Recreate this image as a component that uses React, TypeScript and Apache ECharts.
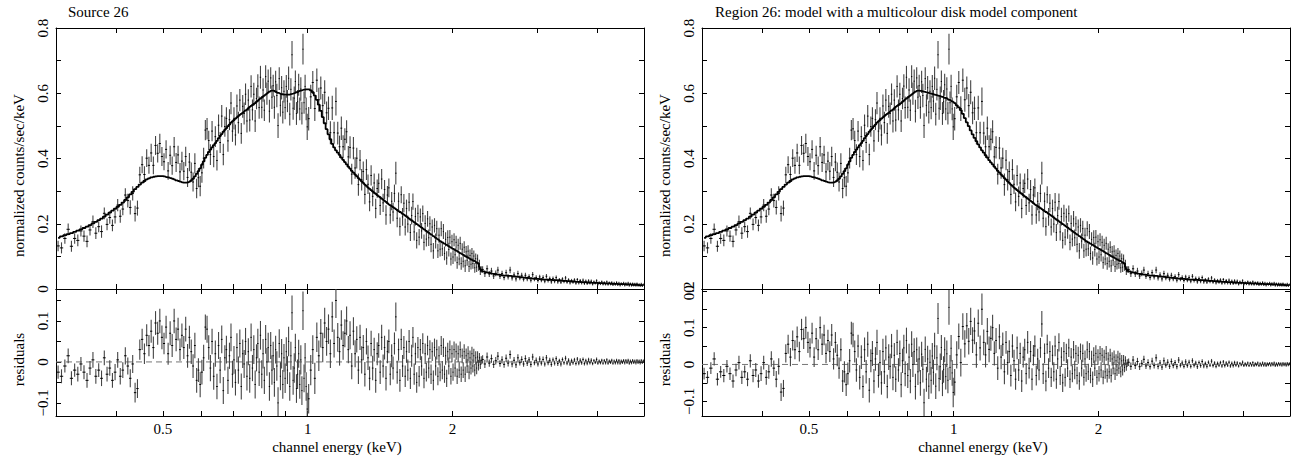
import React, { useEffect, useRef } from "react";
import * as echarts from "echarts";

// ---- channel energies (keV) ----
const ENERGY_KEV = [
  0.303, 0.308, 0.313, 0.318, 0.323, 0.328, 0.333, 0.338, 0.343, 0.348,
  0.353, 0.358, 0.363, 0.368, 0.373, 0.378, 0.383, 0.388, 0.393, 0.398,
  0.403, 0.408, 0.413, 0.418, 0.423, 0.428, 0.433, 0.438, 0.443, 0.448,
  0.453, 0.458, 0.463, 0.468, 0.473, 0.478, 0.483, 0.488, 0.493, 0.498,
  0.503, 0.508, 0.513, 0.518, 0.523, 0.528, 0.533, 0.538, 0.543, 0.548,
  0.553, 0.558, 0.563, 0.568, 0.573, 0.578, 0.583, 0.588, 0.593, 0.598,
  0.603, 0.608, 0.613, 0.618, 0.623, 0.628, 0.633, 0.638, 0.643, 0.648,
  0.653, 0.658, 0.663, 0.668, 0.673, 0.678, 0.683, 0.688, 0.693, 0.698,
  0.703, 0.708, 0.713, 0.718, 0.723, 0.728, 0.733, 0.738, 0.743, 0.748,
  0.753, 0.758, 0.763, 0.768, 0.773, 0.778, 0.783, 0.788, 0.793, 0.798,
  0.803, 0.808, 0.813, 0.818, 0.823, 0.828, 0.833, 0.838, 0.843, 0.848,
  0.853, 0.858, 0.863, 0.868, 0.873, 0.878, 0.883, 0.888, 0.893, 0.898,
  0.903, 0.908, 0.913, 0.918, 0.923, 0.928, 0.933, 0.938, 0.943, 0.948,
  0.953, 0.958, 0.963, 0.968, 0.973, 0.978, 0.983, 0.988, 0.993, 0.998,
  1.005, 1.015, 1.025, 1.035, 1.045, 1.055, 1.065, 1.075, 1.085, 1.095,
  1.105, 1.115, 1.125, 1.135, 1.145, 1.155, 1.165, 1.175, 1.185, 1.195,
  1.205, 1.215, 1.225, 1.235, 1.245, 1.255, 1.265, 1.275, 1.285, 1.295,
  1.305, 1.315, 1.325, 1.335, 1.345, 1.355, 1.365, 1.375, 1.385, 1.395,
  1.405, 1.415, 1.425, 1.435, 1.445, 1.455, 1.465, 1.475, 1.485, 1.495,
  1.505, 1.515, 1.525, 1.535, 1.545, 1.555, 1.565, 1.575, 1.585, 1.595,
  1.605, 1.615, 1.625, 1.635, 1.645, 1.655, 1.665, 1.675, 1.685, 1.695,
  1.705, 1.715, 1.725, 1.735, 1.745, 1.755, 1.765, 1.775, 1.785, 1.795,
  1.805, 1.815, 1.825, 1.835, 1.845, 1.855, 1.865, 1.875, 1.885, 1.895,
  1.905, 1.915, 1.925, 1.935, 1.945, 1.955, 1.965, 1.975, 1.985, 1.995,
  2.005, 2.015, 2.025, 2.035, 2.045, 2.055, 2.065, 2.075, 2.085, 2.095,
  2.105, 2.115, 2.125, 2.135, 2.145, 2.155, 2.165, 2.175, 2.185, 2.195,
  2.205, 2.215, 2.225, 2.235, 2.245, 2.255, 2.265, 2.275, 2.285, 2.295,
  2.31, 2.335, 2.36, 2.385, 2.41, 2.435, 2.46, 2.485, 2.51, 2.535,
  2.56, 2.585, 2.61, 2.635, 2.66, 2.685, 2.71, 2.735, 2.76, 2.785,
  2.81, 2.835, 2.86, 2.885, 2.91, 2.935, 2.96, 2.985, 3.01, 3.035,
  3.06, 3.085, 3.11, 3.135, 3.16, 3.185, 3.21, 3.235, 3.26, 3.285,
  3.31, 3.335, 3.36, 3.385, 3.41, 3.435, 3.46, 3.485, 3.51, 3.535,
  3.56, 3.585, 3.61, 3.635, 3.66, 3.685, 3.71, 3.735, 3.76, 3.785,
  3.81, 3.835, 3.86, 3.885, 3.91, 3.935, 3.96, 3.985, 4.01, 4.035,
  4.06, 4.085, 4.11, 4.135, 4.16, 4.185, 4.21, 4.235, 4.26, 4.285,
  4.31, 4.335, 4.36, 4.385, 4.41, 4.435, 4.46, 4.485, 4.51, 4.535,
  4.56, 4.585, 4.61, 4.635, 4.66, 4.685, 4.71, 4.735, 4.76, 4.785,
  4.81, 4.835, 4.86, 4.885, 4.91, 4.935, 4.96, 4.985,
];

// ---- normalized counts/sec/keV ----
const COUNTS = [
  0.132, 0.126, 0.155, 0.183, 0.131, 0.155, 0.149, 0.178, 0.162, 0.146,
  0.181, 0.206, 0.171, 0.191, 0.176, 0.232, 0.198, 0.219, 0.195, 0.221,
  0.257, 0.223, 0.245, 0.288, 0.271, 0.250, 0.293, 0.231, 0.248, 0.350,
  0.381, 0.351, 0.401, 0.379, 0.417, 0.379, 0.440, 0.416, 0.446, 0.406,
  0.390, 0.428, 0.362, 0.410, 0.378, 0.436, 0.388, 0.411, 0.359, 0.392,
  0.361, 0.406, 0.342, 0.389, 0.358, 0.328, 0.385, 0.308, 0.341, 0.315,
  0.356, 0.401, 0.487, 0.491, 0.455, 0.412, 0.484, 0.406, 0.467, 0.394,
  0.502, 0.449, 0.530, 0.412, 0.498, 0.523, 0.454, 0.519, 0.570, 0.484,
  0.523, 0.472, 0.561, 0.510, 0.579, 0.477, 0.560, 0.538, 0.597, 0.515,
  0.579, 0.518, 0.621, 0.549, 0.597, 0.515, 0.584, 0.622, 0.556, 0.649,
  0.557, 0.610, 0.548, 0.651, 0.599, 0.637, 0.545, 0.647, 0.588, 0.623,
  0.557, 0.635, 0.593, 0.501, 0.645, 0.563, 0.617, 0.542, 0.606, 0.556,
  0.621, 0.576, 0.646, 0.536, 0.612, 0.718, 0.554, 0.585, 0.636, 0.538,
  0.574, 0.626, 0.552, 0.613, 0.539, 0.735, 0.571, 0.621, 0.552, 0.497,
  0.522, 0.589, 0.633, 0.553, 0.640, 0.580, 0.616, 0.562, 0.603, 0.540,
  0.554, 0.479, 0.555, 0.479, 0.575, 0.478, 0.436, 0.493, 0.436, 0.459,
  0.482, 0.405, 0.434, 0.352, 0.432, 0.371, 0.401, 0.320, 0.395, 0.335,
  0.360, 0.290, 0.366, 0.321, 0.267, 0.348, 0.284, 0.325, 0.247, 0.308,
  0.324, 0.256, 0.337, 0.264, 0.305, 0.227, 0.288, 0.310, 0.227, 0.269,
  0.236, 0.293, 0.355, 0.217, 0.269, 0.191, 0.289, 0.221, 0.263, 0.190,
  0.247, 0.199, 0.266, 0.173, 0.225, 0.268, 0.175, 0.222, 0.149, 0.232,
  0.159, 0.221, 0.178, 0.231, 0.143, 0.201, 0.153, 0.215, 0.157, 0.200,
  0.137, 0.190, 0.117, 0.195, 0.147, 0.185, 0.117, 0.165, 0.122, 0.185,
  0.123, 0.176, 0.109, 0.152, 0.095, 0.158, 0.121, 0.159, 0.092, 0.145,
  0.098, 0.151, 0.105, 0.143, 0.081, 0.134, 0.092, 0.140, 0.078, 0.122,
  0.085, 0.128, 0.071, 0.114, 0.088, 0.116, 0.069, 0.103, 0.076, 0.109,
  0.078, 0.101, 0.065, 0.093, 0.067, 0.092, 0.069, 0.078, 0.054, 0.060,
  0.060, 0.047, 0.062, 0.046, 0.055, 0.040, 0.048, 0.058, 0.039, 0.047,
  0.035, 0.050, 0.037, 0.058, 0.034, 0.043, 0.031, 0.047, 0.034, 0.042,
  0.030, 0.042, 0.031, 0.038, 0.027, 0.044, 0.030, 0.035, 0.026, 0.037,
  0.027, 0.035, 0.024, 0.039, 0.026, 0.032, 0.022, 0.032, 0.024, 0.035,
  0.022, 0.029, 0.021, 0.031, 0.023, 0.034, 0.021, 0.028, 0.019, 0.026,
  0.021, 0.028, 0.018, 0.029, 0.019, 0.026, 0.019, 0.027, 0.017, 0.024,
  0.017, 0.025, 0.018, 0.024, 0.015, 0.022, 0.018, 0.025, 0.015, 0.020,
  0.016, 0.022, 0.015, 0.020, 0.015, 0.022, 0.014, 0.019, 0.015, 0.020,
  0.013, 0.018, 0.014, 0.020, 0.013, 0.018, 0.012, 0.017, 0.014, 0.018,
  0.012, 0.017, 0.013, 0.018, 0.011, 0.016, 0.011, 0.016, 0.012, 0.015,
  0.011, 0.016, 0.011, 0.014, 0.010, 0.015, 0.010, 0.013,
];

// ---- 1-sigma errors on the counts ----
const COUNT_ERRORS = [
  0.016, 0.017, 0.016, 0.018, 0.017, 0.016, 0.018, 0.017, 0.017, 0.018,
  0.017, 0.019, 0.018, 0.017, 0.019, 0.018, 0.018, 0.019, 0.018, 0.020,
  0.019, 0.020, 0.019, 0.021, 0.021, 0.022, 0.022, 0.024, 0.023, 0.025,
  0.026, 0.025, 0.027, 0.026, 0.028, 0.027, 0.029, 0.028, 0.030, 0.029,
  0.026, 0.028, 0.027, 0.029, 0.028, 0.030, 0.029, 0.028, 0.027, 0.029,
  0.028, 0.030, 0.029, 0.028, 0.030, 0.029, 0.031, 0.030, 0.029, 0.031,
  0.030, 0.032, 0.031, 0.033, 0.030, 0.032, 0.031, 0.033, 0.032, 0.031,
  0.033, 0.032, 0.034, 0.033, 0.031, 0.034, 0.033, 0.032, 0.034, 0.033,
  0.034, 0.032, 0.035, 0.033, 0.034, 0.032, 0.035, 0.034, 0.033, 0.035,
  0.033, 0.035, 0.034, 0.032, 0.035, 0.034, 0.033, 0.036, 0.034, 0.035,
  0.034, 0.036, 0.033, 0.035, 0.034, 0.036, 0.035, 0.033, 0.036, 0.034,
  0.035, 0.034, 0.036, 0.038, 0.035, 0.034, 0.036, 0.035, 0.034, 0.036,
  0.035, 0.034, 0.036, 0.035, 0.034, 0.042, 0.035, 0.036, 0.034, 0.035,
  0.036, 0.034, 0.035, 0.036, 0.035, 0.047, 0.034, 0.036, 0.035, 0.040,
  0.036, 0.037, 0.035, 0.038, 0.036, 0.037, 0.035, 0.036, 0.037, 0.035,
  0.036, 0.035, 0.037, 0.034, 0.043, 0.035, 0.034, 0.036, 0.035, 0.034,
  0.035, 0.033, 0.034, 0.032, 0.034, 0.033, 0.032, 0.034, 0.031, 0.033,
  0.031, 0.030, 0.032, 0.030, 0.029, 0.031, 0.030, 0.029, 0.030, 0.028,
  0.030, 0.029, 0.031, 0.028, 0.029, 0.030, 0.028, 0.029, 0.027, 0.028,
  0.028, 0.027, 0.035, 0.028, 0.027, 0.028, 0.026, 0.027, 0.028, 0.026,
  0.027, 0.026, 0.028, 0.026, 0.027, 0.025, 0.026, 0.027, 0.025, 0.026,
  0.025, 0.026, 0.024, 0.025, 0.024, 0.025, 0.023, 0.024, 0.025, 0.023,
  0.024, 0.023, 0.024, 0.022, 0.023, 0.024, 0.022, 0.023, 0.022, 0.023,
  0.022, 0.023, 0.021, 0.022, 0.021, 0.022, 0.021, 0.022, 0.020, 0.021,
  0.021, 0.020, 0.021, 0.020, 0.019, 0.020, 0.019, 0.020, 0.019, 0.018,
  0.019, 0.018, 0.019, 0.018, 0.017, 0.018, 0.017, 0.018, 0.016, 0.017,
  0.016, 0.017, 0.015, 0.016, 0.015, 0.014, 0.013, 0.012, 0.011, 0.010,
  0.010, 0.010, 0.011, 0.009, 0.010, 0.009, 0.009, 0.010, 0.008, 0.009,
  0.008, 0.009, 0.008, 0.010, 0.008, 0.008, 0.008, 0.009, 0.007, 0.008,
  0.007, 0.008, 0.007, 0.007, 0.007, 0.008, 0.006, 0.007, 0.006, 0.007,
  0.006, 0.007, 0.006, 0.007, 0.006, 0.006, 0.006, 0.006, 0.006, 0.006,
  0.006, 0.005, 0.006, 0.005, 0.005, 0.006, 0.005, 0.005, 0.005, 0.005,
  0.005, 0.005, 0.005, 0.005, 0.005, 0.005, 0.005, 0.005, 0.005, 0.005,
  0.005, 0.005, 0.004, 0.005, 0.004, 0.004, 0.004, 0.005, 0.004, 0.004,
  0.004, 0.004, 0.004, 0.004, 0.004, 0.004, 0.004, 0.004, 0.004, 0.004,
  0.004, 0.004, 0.004, 0.004, 0.004, 0.004, 0.004, 0.004, 0.004, 0.004,
  0.004, 0.004, 0.004, 0.004, 0.004, 0.004, 0.004, 0.004, 0.004, 0.004,
  0.004, 0.004, 0.004, 0.004, 0.004, 0.004, 0.004, 0.004,
];

// ---- model of the left plot ("Source 26") ----
const MODEL_SOURCE = [
  0.157, 0.161, 0.165, 0.168, 0.171, 0.175, 0.179, 0.183, 0.187, 0.191,
  0.196, 0.201, 0.206, 0.211, 0.216, 0.222, 0.228, 0.234, 0.240, 0.246,
  0.252, 0.258, 0.265, 0.273, 0.281, 0.290, 0.298, 0.306, 0.313, 0.320,
  0.326, 0.331, 0.336, 0.339, 0.342, 0.344, 0.345, 0.346, 0.346, 0.346,
  0.345, 0.343, 0.342, 0.340, 0.338, 0.336, 0.333, 0.331, 0.329, 0.327,
  0.326, 0.326, 0.327, 0.329, 0.333, 0.338, 0.345, 0.353, 0.361, 0.370,
  0.381, 0.391, 0.402, 0.411, 0.420, 0.427, 0.434, 0.441, 0.447, 0.454,
  0.462, 0.469, 0.475, 0.482, 0.488, 0.493, 0.499, 0.504, 0.510, 0.514,
  0.518, 0.522, 0.526, 0.530, 0.534, 0.537, 0.540, 0.543, 0.547, 0.550,
  0.554, 0.558, 0.561, 0.564, 0.567, 0.570, 0.574, 0.577, 0.581, 0.584,
  0.587, 0.590, 0.593, 0.596, 0.599, 0.602, 0.605, 0.607, 0.608, 0.608,
  0.607, 0.605, 0.603, 0.601, 0.600, 0.598, 0.597, 0.597, 0.596, 0.596,
  0.596, 0.596, 0.596, 0.596, 0.597, 0.598, 0.599, 0.600, 0.601, 0.603,
  0.604, 0.606, 0.607, 0.608, 0.609, 0.610, 0.611, 0.611, 0.612, 0.612,
  0.612, 0.609, 0.603, 0.593, 0.580, 0.565, 0.546, 0.527, 0.508, 0.490,
  0.474, 0.459, 0.445, 0.434, 0.425, 0.418, 0.411, 0.403, 0.396, 0.389,
  0.382, 0.375, 0.369, 0.362, 0.357, 0.351, 0.346, 0.340, 0.335, 0.330,
  0.325, 0.320, 0.316, 0.311, 0.307, 0.303, 0.299, 0.295, 0.292, 0.288,
  0.284, 0.281, 0.277, 0.274, 0.270, 0.267, 0.263, 0.260, 0.257, 0.254,
  0.251, 0.248, 0.245, 0.242, 0.239, 0.236, 0.234, 0.231, 0.228, 0.225,
  0.222, 0.219, 0.216, 0.213, 0.210, 0.208, 0.205, 0.202, 0.199, 0.197,
  0.194, 0.191, 0.188, 0.186, 0.183, 0.181, 0.178, 0.175, 0.172, 0.170,
  0.167, 0.165, 0.162, 0.160, 0.157, 0.155, 0.152, 0.150, 0.147, 0.145,
  0.143, 0.141, 0.139, 0.137, 0.135, 0.133, 0.131, 0.129, 0.127, 0.125,
  0.123, 0.121, 0.120, 0.118, 0.116, 0.114, 0.112, 0.110, 0.108, 0.107,
  0.105, 0.103, 0.101, 0.099, 0.098, 0.096, 0.094, 0.093, 0.091, 0.089,
  0.088, 0.086, 0.085, 0.083, 0.082, 0.080, 0.077, 0.068, 0.060, 0.056,
  0.054, 0.052, 0.050, 0.049, 0.047, 0.046, 0.045, 0.044, 0.043, 0.042,
  0.041, 0.041, 0.040, 0.040, 0.039, 0.039, 0.038, 0.037, 0.036, 0.036,
  0.035, 0.034, 0.034, 0.033, 0.033, 0.032, 0.032, 0.031, 0.031, 0.030,
  0.030, 0.029, 0.029, 0.029, 0.028, 0.028, 0.028, 0.027, 0.027, 0.027,
  0.026, 0.026, 0.026, 0.025, 0.025, 0.025, 0.024, 0.024, 0.024, 0.023,
  0.023, 0.023, 0.022, 0.022, 0.022, 0.022, 0.021, 0.021, 0.021, 0.021,
  0.020, 0.020, 0.020, 0.020, 0.019, 0.019, 0.019, 0.019, 0.018, 0.018,
  0.018, 0.018, 0.018, 0.017, 0.017, 0.017, 0.017, 0.017, 0.016, 0.016,
  0.016, 0.016, 0.016, 0.016, 0.015, 0.015, 0.015, 0.015, 0.015, 0.015,
  0.014, 0.014, 0.014, 0.014, 0.014, 0.014, 0.013, 0.013, 0.013, 0.013,
  0.013, 0.013, 0.012, 0.012, 0.012, 0.012, 0.011, 0.011,
];

// ---- model of the right plot (with a multicolour disk component) ----
const MODEL_DISK = [
  0.157, 0.161, 0.165, 0.168, 0.171, 0.175, 0.179, 0.183, 0.187, 0.191,
  0.196, 0.201, 0.206, 0.211, 0.216, 0.222, 0.228, 0.234, 0.240, 0.246,
  0.252, 0.258, 0.265, 0.273, 0.281, 0.290, 0.298, 0.306, 0.313, 0.320,
  0.326, 0.331, 0.336, 0.339, 0.342, 0.344, 0.345, 0.346, 0.346, 0.346,
  0.345, 0.343, 0.342, 0.340, 0.338, 0.336, 0.333, 0.331, 0.329, 0.327,
  0.326, 0.326, 0.327, 0.329, 0.333, 0.338, 0.345, 0.353, 0.361, 0.370,
  0.381, 0.391, 0.402, 0.411, 0.420, 0.427, 0.434, 0.441, 0.447, 0.454,
  0.462, 0.469, 0.475, 0.482, 0.488, 0.493, 0.499, 0.504, 0.510, 0.514,
  0.518, 0.522, 0.526, 0.530, 0.534, 0.537, 0.540, 0.543, 0.547, 0.550,
  0.554, 0.558, 0.561, 0.564, 0.567, 0.570, 0.574, 0.577, 0.581, 0.584,
  0.587, 0.590, 0.593, 0.596, 0.599, 0.602, 0.605, 0.607, 0.608, 0.608,
  0.607, 0.607, 0.606, 0.605, 0.604, 0.603, 0.602, 0.601, 0.600, 0.599,
  0.598, 0.597, 0.596, 0.595, 0.594, 0.593, 0.592, 0.591, 0.590, 0.589,
  0.588, 0.586, 0.585, 0.584, 0.582, 0.580, 0.579, 0.577, 0.575, 0.573,
  0.570, 0.563, 0.557, 0.548, 0.537, 0.524, 0.511, 0.499, 0.486, 0.474,
  0.463, 0.453, 0.443, 0.434, 0.425, 0.418, 0.410, 0.403, 0.395, 0.388,
  0.382, 0.375, 0.369, 0.362, 0.357, 0.351, 0.346, 0.340, 0.335, 0.330,
  0.325, 0.320, 0.316, 0.311, 0.307, 0.303, 0.299, 0.295, 0.292, 0.288,
  0.284, 0.281, 0.277, 0.274, 0.270, 0.267, 0.263, 0.260, 0.257, 0.254,
  0.251, 0.248, 0.245, 0.242, 0.239, 0.236, 0.234, 0.231, 0.228, 0.225,
  0.222, 0.219, 0.216, 0.213, 0.210, 0.208, 0.205, 0.202, 0.199, 0.197,
  0.194, 0.191, 0.188, 0.186, 0.183, 0.181, 0.178, 0.175, 0.172, 0.170,
  0.167, 0.165, 0.162, 0.160, 0.157, 0.155, 0.152, 0.150, 0.147, 0.145,
  0.143, 0.141, 0.139, 0.137, 0.135, 0.133, 0.131, 0.129, 0.127, 0.125,
  0.123, 0.121, 0.120, 0.118, 0.116, 0.114, 0.112, 0.110, 0.108, 0.107,
  0.105, 0.103, 0.101, 0.099, 0.098, 0.096, 0.094, 0.093, 0.091, 0.089,
  0.088, 0.086, 0.085, 0.083, 0.082, 0.080, 0.077, 0.068, 0.060, 0.056,
  0.054, 0.052, 0.050, 0.049, 0.047, 0.046, 0.045, 0.044, 0.043, 0.042,
  0.041, 0.041, 0.040, 0.040, 0.039, 0.039, 0.038, 0.037, 0.036, 0.036,
  0.035, 0.034, 0.034, 0.033, 0.033, 0.032, 0.032, 0.031, 0.031, 0.030,
  0.030, 0.029, 0.029, 0.029, 0.028, 0.028, 0.028, 0.027, 0.027, 0.027,
  0.026, 0.026, 0.026, 0.025, 0.025, 0.025, 0.024, 0.024, 0.024, 0.023,
  0.023, 0.023, 0.022, 0.022, 0.022, 0.022, 0.021, 0.021, 0.021, 0.021,
  0.020, 0.020, 0.020, 0.020, 0.019, 0.019, 0.019, 0.019, 0.018, 0.018,
  0.018, 0.018, 0.018, 0.017, 0.017, 0.017, 0.017, 0.017, 0.016, 0.016,
  0.016, 0.016, 0.016, 0.016, 0.015, 0.015, 0.015, 0.015, 0.015, 0.015,
  0.014, 0.014, 0.014, 0.014, 0.014, 0.014, 0.013, 0.013, 0.013, 0.013,
  0.013, 0.013, 0.012, 0.012, 0.012, 0.012, 0.011, 0.011,
];

const PANEL_TITLES = ["Source 26", "Region 26: model with a multicolour disk model component"];
const X_RANGE_KEV = [0.3, 5];
const X_TICKS_KEV = [0.4, 0.5, 0.6, 0.7, 0.8, 0.9, 1, 2, 3, 4];
const X_LABELS_KEV = [0.5, 1, 2];
const TOP_Y_RANGE = [0, 0.8];
const TOP_Y_TICKS = [0, 0.1, 0.2, 0.3, 0.4, 0.5, 0.6, 0.7, 0.8];
const TOP_Y_LABELS = [0, 0.2, 0.4, 0.6, 0.8];
const RES_RANGE_LEFT = [-0.132, 0.178];
const RES_RANGE_RIGHT = [-0.14, 0.205];
const RES_TICKS = [-0.1, -0.05, 0, 0.05, 0.1, 0.15, 0.2];
const RES_LABELS = [-0.1, 0, 0.1, 0.2];

const FONT = '"Liberation Serif", "Times New Roman", serif';

const lg = (v: number) => Math.log10(v);

function binEdges() {
  const n = ENERGY_KEV.length;
  return ENERGY_KEV.map((e, i) => {
    const prev = i > 0 ? ENERGY_KEV[i - 1] : e - (ENERGY_KEV[1] - ENERGY_KEV[0]);
    const next = i < n - 1 ? ENERGY_KEV[i + 1] : e + (e - ENERGY_KEV[n - 2]);
    return [lg((prev + e) / 2), lg((e + next) / 2)];
  });
}

function fmtY(v: number) {
  const r = Math.round(v * 100) / 100;
  if (r === 0) return "0";
  const s = String(Math.abs(r));
  return r < 0 ? "\u2212" + s : s;
}

function fmtX(v: number) {
  const e = Math.pow(10, v);
  return String(Math.round(e * 10) / 10);
}

const renderErr = (_params: any, api: any) => {
  const x = api.value(0);
  const y = api.value(1);
  const top = api.coord([x, api.value(3)]);
  const bot = api.coord([x, api.value(2)]);
  const l = api.coord([api.value(4), y]);
  const r = api.coord([api.value(5), y]);
  return {
    type: "group",
    children: [
      { type: "line", shape: { x1: top[0], y1: top[1], x2: bot[0], y2: bot[1] }, style: { stroke: "#454545", lineWidth: 1.1 } },
      { type: "line", shape: { x1: l[0], y1: l[1], x2: r[0], y2: r[1] }, style: { stroke: "#000", lineWidth: 1 } },
    ],
  };
};

export default function App() {
  const ref = useRef<HTMLDivElement>(null);

  useEffect(() => {
    if (!ref.current) return;
    const chart = echarts.init(ref.current, undefined, { renderer: "svg" });
    const edges = binEdges();
    const xMin = lg(X_RANGE_KEV[0]);
    const xMax = lg(X_RANGE_KEV[1]);

    const grids = [
      { left: 56, top: 28, width: 588, height: 261 },
      { left: 56, top: 289, width: 588, height: 127 },
      { left: 702, top: 28, width: 588, height: 261 },
      { left: 702, top: 289, width: 588, height: 127 },
    ];

    const textBase = { fontFamily: FONT, fontSize: 15, color: "#000" };
    const lineStyle = { color: "#000", width: 1 };

    const xAxes: any[] = [];
    const yAxes: any[] = [];
    grids.forEach((_g, gi) => {
      const isRes = gi % 2 === 1;
      ["bottom", "top"].forEach((pos) => {
        const main = pos === "bottom" && isRes;
        xAxes.push({
          type: "value",
          gridIndex: gi,
          position: pos,
          min: xMin,
          max: xMax,
          axisLine: { show: true, onZero: false, lineStyle },
          axisTick: { show: true, inside: true, length: 5, customValues: X_TICKS_KEV.map(lg), lineStyle },
          axisLabel: { show: main, customValues: X_LABELS_KEV.map(lg), formatter: fmtX, margin: 5, ...textBase },
          splitLine: { show: false },
          name: main ? "channel energy (keV)" : "",
          nameLocation: "middle",
          nameGap: 23,
          nameTextStyle: { ...textBase, padding: [0, 26, 0, 0] },
        });
      });
      const range = !isRes ? TOP_Y_RANGE : gi < 2 ? RES_RANGE_LEFT : RES_RANGE_RIGHT;
      const ticks = !isRes ? TOP_Y_TICKS : RES_TICKS.filter((t) => t <= range[1] + 1e-9);
      const labels = !isRes ? TOP_Y_LABELS : RES_LABELS.filter((t) => t <= range[1] + 1e-9);
      ["left", "right"].forEach((pos) => {
        const main = pos === "left";
        yAxes.push({
          type: "value",
          gridIndex: gi,
          position: pos,
          min: range[0],
          max: range[1],
          axisLine: { show: true, onZero: false, lineStyle },
          axisTick: { show: true, inside: true, length: 5, customValues: ticks, lineStyle },
          axisLabel: { show: main, customValues: labels, formatter: fmtY, rotate: 90, margin: 6, ...textBase },
          splitLine: { show: false },
          name: main ? (isRes ? "residuals" : "normalized counts/sec/keV") : "",
          nameLocation: "middle",
          nameGap: 30,
          nameTextStyle: { ...textBase, padding: [0, isRes ? 14 : 34, 0, 0] },
        });
      });
    });

    const series: any[] = [];
    [MODEL_SOURCE, MODEL_DISK].forEach((model, p) => {
      const gTop = p * 2;
      const gRes = p * 2 + 1;
      const dataTop = ENERGY_KEV.map((e, i) => [
        lg(e), COUNTS[i], COUNTS[i] - COUNT_ERRORS[i], COUNTS[i] + COUNT_ERRORS[i], edges[i][0], edges[i][1],
      ]);
      const dataRes = ENERGY_KEV.map((e, i) => {
        const r = COUNTS[i] - model[i];
        return [lg(e), r, r - COUNT_ERRORS[i], r + COUNT_ERRORS[i], edges[i][0], edges[i][1]];
      });
      series.push({
        type: "custom",
        xAxisIndex: gTop * 2,
        yAxisIndex: gTop * 2,
        renderItem: renderErr,
        data: dataTop,
        encode: { x: 0, y: 1 },
        clip: true,
        z: 2,
        silent: true,
      });
      series.push({
        type: "line",
        xAxisIndex: gTop * 2,
        yAxisIndex: gTop * 2,
        data: ENERGY_KEV.map((e, i) => [lg(e), model[i]]),
        step: "middle",
        symbol: "none",
        showSymbol: false,
        lineStyle: { color: "#000", width: 1.8 },
        clip: true,
        z: 3,
        silent: true,
      });
      series.push({
        type: "line",
        xAxisIndex: gRes * 2,
        yAxisIndex: gRes * 2,
        data: [[xMin, 0], [xMax, 0]],
        symbol: "none",
        lineStyle: { color: "#777", width: 1, type: [6, 4] },
        z: 1,
        silent: true,
      });
      series.push({
        type: "custom",
        xAxisIndex: gRes * 2,
        yAxisIndex: gRes * 2,
        renderItem: renderErr,
        data: dataRes,
        encode: { x: 0, y: 1 },
        clip: true,
        z: 2,
        silent: true,
      });
    });

    chart.setOption({
      animation: false,
      backgroundColor: "#fff",
      title: [
        { text: PANEL_TITLES[0], left: 68, top: 4, padding: 0, textStyle: { ...textBase, fontWeight: "normal" } },
        { text: PANEL_TITLES[1], left: 715, top: 4, padding: 0, textStyle: { ...textBase, fontWeight: "normal" } },
      ],
      grid: grids.map((g) => ({ ...g, containLabel: false, outerBoundsMode: "none" })),
      xAxis: xAxes,
      yAxis: yAxes,
      series,
    });
    return () => chart.dispose();
  }, []);

  return <div ref={ref} style={{ position: "fixed", left: 0, top: 0, width: 1302, height: 459, background: "#fff" }} />;
}
